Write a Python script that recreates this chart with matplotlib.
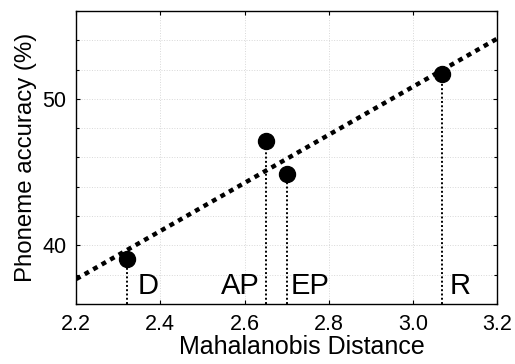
import matplotlib
matplotlib.use("Agg")
import matplotlib.pyplot as plt
import numpy as np
from matplotlib.ticker import MultipleLocator, FixedLocator

plt.rcParams['font.family'] = ['Liberation Sans', 'DejaVu Sans']

conditions = ["D", "AP", "EP", "R"]
distance = [2.32, 2.65, 2.70, 3.07]
accuracy = [39.1, 47.1, 44.9, 51.7]
fit_x = [2.2, 3.2]
fit_y = [37.7, 54.1]
xticks = [2.2, 2.4, 2.6, 2.8, 3.0, 3.2]
xticklabels = ["2.2", "2.4", "2.6", "2.8", "3.0", "3.2"]
yticks = [40, 50]

fig = plt.figure(figsize=(5.15, 3.64), dpi=100)
ax = fig.add_axes([0.148, 0.165, 0.817, 0.805])

ax.set_xlim(2.2, 3.2)
ax.set_ylim(36, 56)

# grid
for gx in xticks:
    ax.axvline(gx, color='#d8d8d8', lw=0.7, ls=':', zorder=0)
for gy in np.arange(38, 56, 2):
    ax.axhline(gy, color='#d8d8d8', lw=0.7, ls=':', zorder=0)

# trend line
ax.plot(fit_x, fit_y, color='black', lw=3.2, ls=(0, (1.1, 1.1)), zorder=2)

# drop lines
ymin = ax.get_ylim()[0]
for x, y in zip(distance, accuracy):
    ax.plot([x, x], [ymin, y], color='black', lw=1.4, ls=(0, (1, 1.2)), zorder=2)

ax.plot(distance, accuracy, 'o', color='black', ms=11.5, zorder=3)

# labels
label_pos = {"D": (2.345, 'left'), "AP": (2.637, 'right'), "EP": (2.71, 'left'), "R": (3.088, 'left')}
for c in conditions:
    xx, ha = label_pos[c]
    ax.text(xx, 37.25, c, ha=ha, va='center', fontsize=21)

ax.xaxis.set_major_locator(FixedLocator(xticks))
ax.set_xticklabels(xticklabels)
ax.yaxis.set_major_locator(FixedLocator(yticks))
ax.yaxis.set_minor_locator(MultipleLocator(2))
ax.tick_params(which='both', direction='in', top=True, right=True, length=3, width=0.8,
               labelsize=15.5, pad=7)
ax.tick_params(which='minor', length=2)

ax.set_xlabel("Mahalanobis Distance", fontsize=18, labelpad=0)
ax.xaxis.label.set_x(0.537)
ax.set_ylabel("Phoneme accuracy (%)", fontsize=17.3, labelpad=4)

for s in ax.spines.values():
    s.set_linewidth(1.0)

fig.savefig("out.png", dpi=100)
